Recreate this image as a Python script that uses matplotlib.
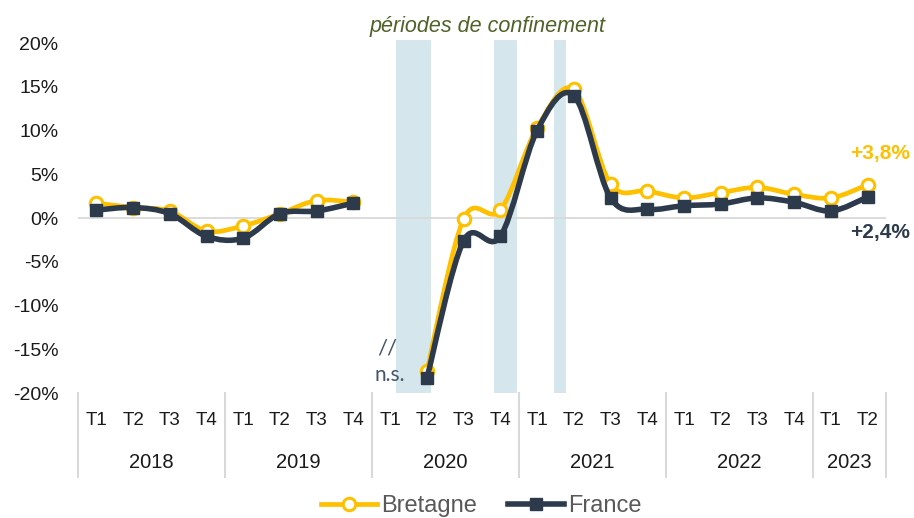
import matplotlib
matplotlib.use('Agg')
import matplotlib.pyplot as plt
import numpy as np
from matplotlib.path import Path
from matplotlib.patches import PathPatch
from matplotlib.lines import Line2D
import matplotlib.transforms as mtransforms

plt.rcParams['font.family'] = ['Liberation Sans', 'DejaVu Sans']

YELLOW = '#FFC000'
NAVY = '#2C3A4B'
BAND = '#D5E7EC'
GRID = '#D9D9D9'

# Data
years = ['2018', '2019', '2020', '2021', '2022', '2023']
quarters_per_year = [4, 4, 4, 4, 4, 2]
quarters = ['T1', 'T2', 'T3', 'T4'] * 5 + ['T1', 'T2']
bretagne = [1.7, 1.2, 0.8, -1.5, -0.9, 0.5, 2.0, 1.8,
            np.nan, -17.5, -0.1, 0.9,
            10.3, 14.7, 3.9, 3.1,
            2.3, 2.9, 3.5, 2.7,
            2.3, 3.8]
france = [0.9, 1.2, 0.5, -2.1, -2.3, 0.5, 0.8, 1.7,
          np.nan, -18.3, -2.6, -2.1,
          10.0, 14.0, 2.3, 1.0,
          1.4, 1.6, 2.3, 1.8,
          0.8, 2.4]
# lockdown periods, in quarter-index units
lockdowns = [(8.17, 9.12), (10.83, 11.46), (12.46, 12.79)]


def smooth_path(x, y):
    """Bezier path through the points (Excel-like smoothed line)."""
    verts, codes = [], []
    pts = np.column_stack([x, y])
    n = len(pts)
    for i in range(n - 1):
        p0 = pts[i - 1] if i > 0 else pts[i]
        p1, p2 = pts[i], pts[i + 1]
        p3 = pts[i + 2] if i + 2 < n else pts[i + 1]
        c1 = p1 + (p2 - p0) / 6
        c2 = p2 - (p3 - p1) / 6
        if i == 0:
            verts.append(p1)
            codes.append(Path.MOVETO)
        verts += [c1, c2, p2]
        codes += [Path.CURVE4] * 3
    return Path(verts, codes)


def draw_series(ax, values, color, lw, marker, ms, mfc, mew, z):
    x = np.arange(len(values))
    y = np.array(values, dtype=float)
    ok = ~np.isnan(y)
    # split into continuous runs
    runs, cur = [], []
    for i in range(len(y)):
        if ok[i]:
            cur.append(i)
        elif cur:
            runs.append(cur)
            cur = []
    if cur:
        runs.append(cur)
    for r in runs:
        p = smooth_path(x[r], y[r])
        ax.add_patch(PathPatch(p, facecolor='none', edgecolor=color, lw=lw,
                               capstyle='round', joinstyle='round', zorder=z))
    ax.plot(x[ok], y[ok], ls='none', marker=marker, ms=ms, mfc=mfc,
            mec=color, mew=mew, zorder=z + 0.5)


fig = plt.figure(figsize=(9.14, 5.18), dpi=100)
ax = fig.add_axes([78 / 914, 1 - 393 / 518, (886 - 78) / 914, (393 - 43) / 518])

n = len(quarters)
ax.set_xlim(-0.5, n - 0.5)
ax.set_ylim(-20, 20)

# lockdown bands
for a, b in lockdowns:
    ax.fill_between([a, b], -20, 20.35, color=BAND, lw=0, zorder=0, clip_on=False)
ax.text(10.64, 20.7, 'périodes de confinement', ha='center', va='bottom',
        fontsize=15.5, style='italic', color='#4F6228')

ax.axhline(0, color=GRID, lw=1.3, zorder=1)

draw_series(ax, bretagne, YELLOW, 3.4, 'o', 9, 'white', 2.2, 3)
draw_series(ax, france, NAVY, 4, 's', 8, NAVY, 1, 4)

# end labels
ax.text(21.33, 7.4, '+3,8%', ha='center', va='center', fontsize=15,
        fontweight='bold', color=YELLOW)
ax.text(21.33, -1.6, '+2,4%', ha='center', va='center', fontsize=15,
        fontweight='bold', color=NAVY)
ax.text(7.93, -14.9, '//', ha='center', va='center', fontsize=16,
        color='#44546A', family=['Lato', 'DejaVu Sans'])
ax.text(7.98, -17.9, 'n.s.', ha='center', va='center', fontsize=15,
        color='#44546A', family=['Lato', 'DejaVu Sans'])

# y axis
ax.set_yticks(np.arange(-20, 21, 5))
ax.set_yticklabels([f'{v}%' for v in range(-20, 21, 5)])
ax.tick_params(axis='y', length=0, pad=14, labelsize=14, labelcolor='#1a1a1a')

# x axis: quarters then years
ax.set_xticks(np.arange(n))
ax.set_xticklabels(quarters)
ax.tick_params(axis='x', length=0, pad=14, labelsize=13.5, labelcolor='#1a1a1a')

trans = mtransforms.blended_transform_factory(ax.transData, ax.transAxes)
start = 0
bounds = [-0.5]
for yr, k in zip(years, quarters_per_year):
    ax.text(start + (k - 1) / 2, -0.2, yr, transform=trans, ha='center',
            va='center', fontsize=14.5, color='#1a1a1a')
    start += k
    bounds.append(start - 0.5)
for b in bounds:
    ax.plot([b, b], [0, -0.24], transform=trans, color=GRID, lw=1.5,
            clip_on=False)

for s in ax.spines.values():
    s.set_visible(False)

handles = [
    Line2D([], [], color=YELLOW, lw=3.4, marker='o', ms=9, mfc='white',
           mec=YELLOW, mew=2.2),
    Line2D([], [], color=NAVY, lw=4, marker='s', ms=8, mfc=NAVY, mec=NAVY),
]
fig.legend(handles, ['Bretagne', 'France'], loc='center',
           bbox_to_anchor=(481 / 914, 1 - 506 / 518), ncol=2, frameon=False,
           fontsize=17, handlelength=2.4, handletextpad=0.15,
           columnspacing=1.3, labelcolor='#595959')

fig.savefig('out.png', dpi=100)
